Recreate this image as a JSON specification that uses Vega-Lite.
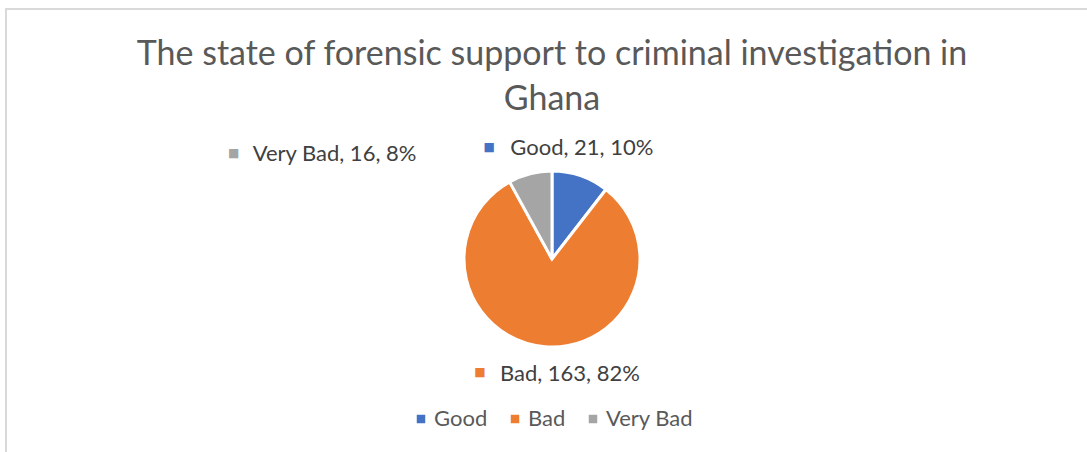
{
  "$schema": "https://vega.github.io/schema/vega-lite/v6.json",
  "description": "The state of forensic support to criminal investigation in Ghana",
  "width": 1092,
  "height": 500,
  "autosize": "none",
  "padding": {"left": 6, "top": 9, "right": 0, "bottom": 0},
  "view": {"stroke": "#d9d9d9", "strokeWidth": 2},
  "title": {
    "text": ["The state of forensic support to criminal investigation in", "Ghana"],
    "frame": "group",
    "anchor": "middle",
    "offset": -108,
    "font": "Lato",
    "fontSize": 34,
    "fontWeight": "normal",
    "color": "#595959",
    "lineHeight": 45
  },
  "data": {
    "values": [
      {"category": "Good", "count": 21, "pct": "10%", "order": 1},
      {"category": "Bad", "count": 163, "pct": "82%", "order": 2},
      {"category": "Very Bad", "count": 16, "pct": "8%", "order": 3}
    ]
  },
  "transform": [
    {"stack": "count", "groupby": [], "sort": [{"field": "order"}], "as": ["c0", "c1"]},
    {"calculate": "(datum.c0 + datum.c1) / 2", "as": "mid"},
    {"calculate": "datum.category + ', ' + datum.count + ', ' + datum.pct", "as": "label"}
  ],
  "layer": [
    {
      "mark": {"type": "arc", "outerRadius": 88, "stroke": "white", "strokeWidth": 3},
      "encoding": {
        "theta": {"field": "count", "type": "quantitative", "stack": true, "scale": {"domain": [0, 200]}},
        "order": {"field": "order", "type": "quantitative"},
        "color": {
          "field": "category",
          "type": "nominal",
          "scale": {"domain": ["Good", "Bad", "Very Bad"], "range": ["#4472C4", "#ED7D31", "#A5A5A5"]},
          "legend": {"title": null}
        }
      }
    },
    {
      "transform": [{"filter": "datum.category == 'Good'"}],
      "encoding": {
        "theta": {"field": "mid", "type": "quantitative", "stack": null, "scale": {"domain": [0, 200]}}
      },
      "layer": [
        {"mark": {"type": "text", "text": "■", "font": "DejaVu Sans", "fontSize": 12, "color": "#4472C4", "radius": 115, "dx": -100, "dy": -3, "align": "center", "baseline": "middle"}},
        {"mark": {"type": "text", "font": "Lato", "fontSize": 22, "color": "#404040", "radius": 115, "dx": -79, "dy": -2, "align": "left", "baseline": "middle"},
         "encoding": {"text": {"field": "label", "type": "nominal"}}}
      ]
    },
    {
      "transform": [{"filter": "datum.category == 'Bad'"}],
      "encoding": {
        "theta": {"field": "mid", "type": "quantitative", "stack": null, "scale": {"domain": [0, 200]}}
      },
      "layer": [
        {"mark": {"type": "text", "text": "■", "font": "DejaVu Sans", "fontSize": 12, "color": "#ED7D31", "radius": 116, "dx": -63, "dy": -3, "align": "center", "baseline": "middle"}},
        {"mark": {"type": "text", "font": "Lato", "fontSize": 22, "color": "#404040", "radius": 116, "dx": -43, "dy": -1, "align": "left", "baseline": "middle"},
         "encoding": {"text": {"field": "label", "type": "nominal"}}}
      ]
    },
    {
      "transform": [{"filter": "datum.category == 'Very Bad'"}],
      "encoding": {
        "theta": {"field": "mid", "type": "quantitative", "stack": null, "scale": {"domain": [0, 200]}}
      },
      "layer": [
        {"mark": {"type": "text", "text": "■", "font": "DejaVu Sans", "fontSize": 12, "color": "#A5A5A5", "radius": 106, "dx": -292, "dy": -3, "align": "center", "baseline": "middle"}},
        {"mark": {"type": "text", "font": "Lato", "fontSize": 22, "color": "#404040", "radius": 106, "dx": -273, "dy": -2, "align": "left", "baseline": "middle"},
         "encoding": {"text": {"field": "label", "type": "nominal"}}}
      ]
    }
  ],
  "config": {
    "style": {"cell": {"stroke": "#d9d9d9", "strokeWidth": 2}},
    "legend": {
      "orient": "bottom",
      "direction": "horizontal",
      "symbolType": "square",
      "symbolSize": 72,
      "symbolStrokeWidth": 0,
      "labelFont": "Lato",
      "labelFontSize": 22,
      "labelColor": "#595959",
      "labelOffset": 2,
      "columnPadding": 16,
      "offset": -101,
      "padding": 0,
      "layout": {"bottom": {"anchor": "middle"}}
    }
  }
}
